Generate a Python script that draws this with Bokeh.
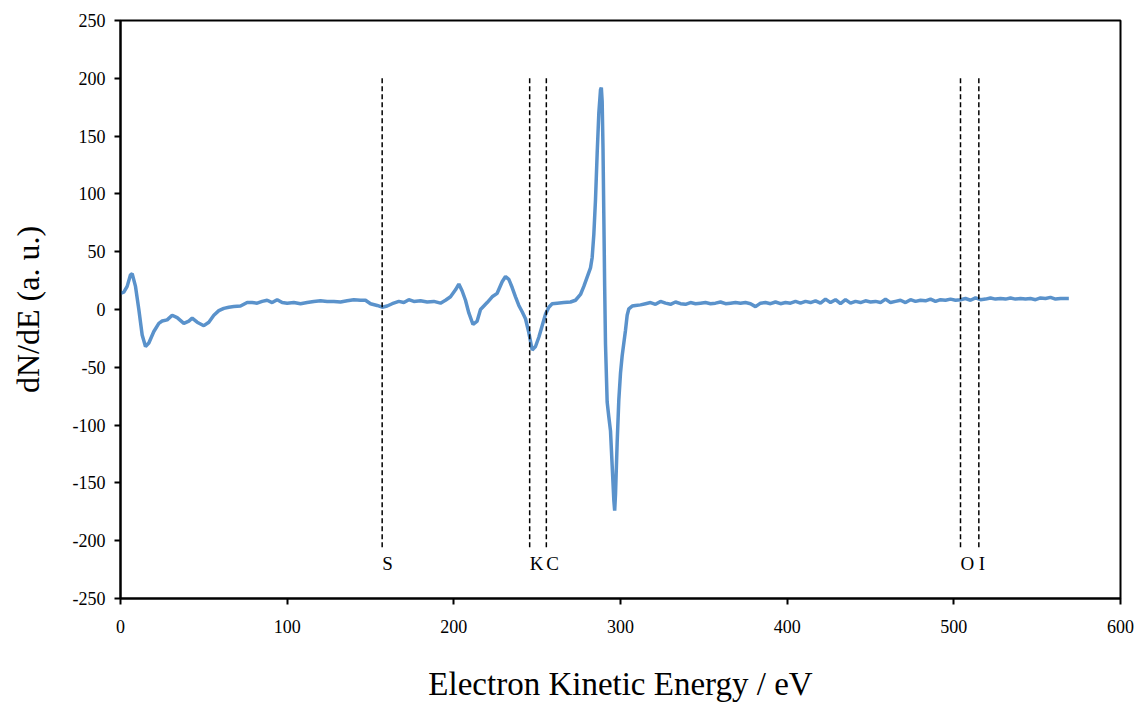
from bokeh.plotting import figure
from bokeh.models import Range1d, FixedTicker, ColumnDataSource
from bokeh.core.properties import value
from bokeh.embed import file_html
from bokeh.resources import INLINE

energy = [0, 2, 4, 6, 7, 9, 11, 13, 15, 17, 20, 23, 25, 28, 31, 34, 38, 41, 43, 46,
          50, 53, 56, 59, 62, 65, 68, 72, 76, 79, 82, 85, 88, 91, 94, 97, 100, 104,
          108, 112, 116, 120, 124, 128, 132, 136, 140, 144, 147, 150, 154, 157, 160,
          163, 167, 170, 173, 176, 180, 184, 188, 192, 195, 198, 201, 203, 205, 207,
          209, 211.5, 214, 216, 218, 220, 223, 226, 229, 231, 233, 235, 237, 239, 241,
          243, 245, 247, 249, 251, 253, 255, 257, 259, 262, 266, 270, 273, 276, 278,
          280, 282, 283, 284, 285, 286, 287, 288, 288.5, 289, 289.5, 290, 290.5, 291,
          292, 293, 294, 295, 296, 296.5, 297, 298, 299, 300, 301, 302, 303, 304, 305,
          307, 309, 312, 315, 318, 321, 324,
          327, 330, 333, 336, 339, 342, 345, 348, 351, 354, 357, 360, 363, 366, 369,
          372, 375, 378, 381, 384, 387, 390, 393, 396, 399, 402, 405, 408, 411, 414,
          417, 420, 423, 426, 429, 432, 435, 438, 441, 444, 447, 450, 453, 456, 459,
          462, 465, 468, 471, 474, 477, 480, 483, 486, 489, 492, 495, 498, 501, 504,
          507, 510, 513, 516, 519, 522, 525, 528, 531, 534, 537, 540, 543, 546, 549,
          552, 555, 558, 561, 564, 567, 569]

dnde = [14, 15, 20, 30, 31, 20, 0, -22, -32, -29, -19, -12, -10, -9, -5, -7, -12, -10, -7.5, -11,
        -14, -11, -5, -1, 1, 2, 2.5, 3, 6, 6, 5.5, 7, 8, 6, 8.5, 6, 5.5, 6,
        5, 6, 7, 7.5, 7, 7, 6.5, 7.5, 8.5, 8, 8, 5, 3.5, 2, 3,
        5, 7, 6, 8.5, 7, 7.5, 6.5, 7, 5.5, 8, 11, 17, 22, 16, 8,
        -3, -13, -10, 0, 3, 6, 11, 14, 24, 28.5, 26, 19, 11, 3.5, -2,
        -8, -20, -35, -32, -24, -14, -4, 2, 5, 5.5, 6, 6.5, 8, 13, 20,
        28, 36, 45, 65, 95, 135, 170, 190, 192, 180, 140, 80, 20, -30,
        -80, -93, -105, -135, -165, -174, -160, -115, -78, -55, -40, -29, -18, -5, 0.6,
        3, 3.5, 4, 5, 6, 4.5, 7,
        5.5, 4.5, 6.5, 5, 4.5, 6, 5, 5.5, 6, 5, 5.5, 6.5, 5, 5.5, 6,
        5.5, 6, 5, 2.5, 5.5, 6, 5, 6.5, 5, 6, 5.5, 7, 5.5, 7, 6,
        7.5, 5.5, 9, 6, 8.5, 5, 8.5, 5.5, 7, 6, 7.5, 6.5, 7, 6, 9,
        6, 7, 8, 6, 8.5, 7, 8, 7.5, 9, 7, 8.5, 8, 9, 8, 8.5,
        9.5, 8, 10, 8.5, 9, 10, 9, 9.5, 9, 10, 9, 9.5, 9, 9.5, 8.5,
        10, 9.5, 10.5, 9, 9.5, 9.5, 9.5]

marker_labels = ["S", "K", "C", "O", "I"]
marker_energy = [157, 245.5, 255.5, 504, 515]
marker_top = [200, 200, 200, 200, 200]
marker_bottom = [-207, -207, -207, -207, -207]
label_y = [-220, -220, -220, -220, -220]

x_ticks = [0, 100, 200, 300, 400, 500, 600]
y_ticks = [-250, -200, -150, -100, -50, 0, 50, 100, 150, 200, 250]

p = figure(width=1138, height=704, output_backend="svg", toolbar_location=None,
           x_range=Range1d(0, 600), y_range=Range1d(-250, 250),
           min_border_left=120, min_border_right=18, min_border_top=20,
           min_border_bottom=105)

p.background_fill_color = "white"
p.border_fill_color = "white"
p.outline_line_color = "black"
p.outline_line_width = 2
p.xgrid.visible = False
p.ygrid.visible = False

p.line(energy, dnde, line_color="#5A92CB", line_width=3.5)

p.segment(x0=marker_energy, y0=marker_top, x1=marker_energy, y1=marker_bottom,
          line_color="black", line_width=1.5, line_dash="5 3")

src = ColumnDataSource(dict(x=marker_energy, y=label_y, t=marker_labels))
p.text(x="x", y="y", text="t", source=src, text_font=value("Liberation Serif"),
       text_font_size="19px", text_align="left", text_baseline="middle",
       text_color="black", x_offset=0)

for ax in (p.xaxis[0], p.yaxis[0]):
    ax.axis_line_width = 2
    ax.axis_line_color = "black"
    ax.major_tick_line_width = 2
    ax.major_tick_line_color = "black"
    ax.major_tick_out = 6
    ax.major_tick_in = 0
    ax.minor_tick_line_color = None
    ax.major_label_text_font = "Liberation Serif"
    ax.major_label_text_font_size = "18px"
    ax.major_label_text_color = "black"
    ax.axis_label_text_font = "Liberation Serif"
    ax.axis_label_text_font_size = "32px"
    ax.axis_label_text_font_style = "normal"
    ax.axis_label_text_color = "black"

p.xaxis[0].axis_label_text_font_size = "33px"
p.xaxis[0].ticker = FixedTicker(ticks=x_ticks)
p.yaxis[0].ticker = FixedTicker(ticks=y_ticks)
p.yaxis[0].major_label_overrides = {t: str(t) for t in y_ticks}
p.xaxis[0].major_label_overrides = {t: str(t) for t in x_ticks}
p.xaxis[0].axis_label = "Electron Kinetic Energy / eV"
p.yaxis[0].axis_label = "dN/dE (a. u.)"
p.xaxis[0].major_label_standoff = 15
p.yaxis[0].major_label_standoff = 9
p.xaxis[0].axis_label_standoff = 30
p.yaxis[0].axis_label_standoff = 24

open("out.html", "w").write(file_html(p, INLINE))
